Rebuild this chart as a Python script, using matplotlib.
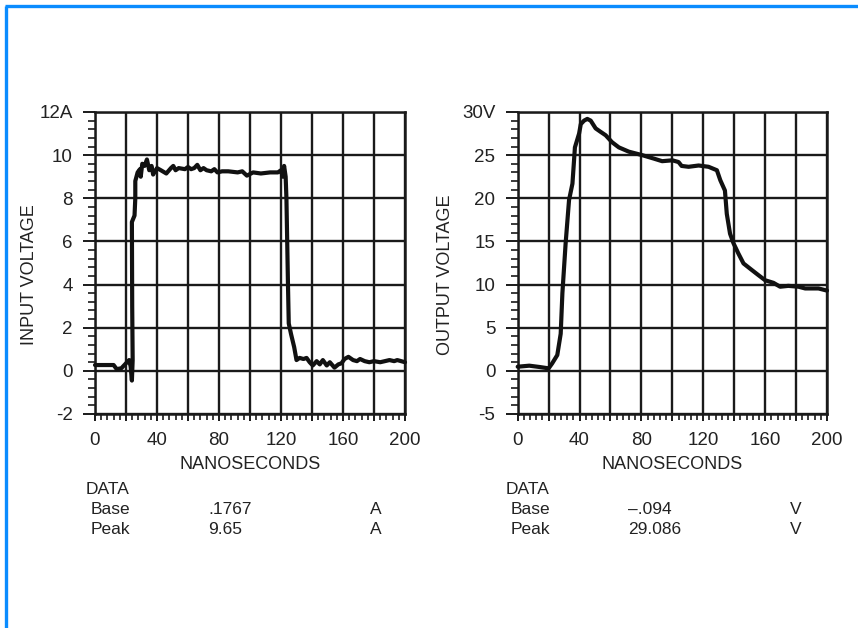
import matplotlib
matplotlib.use("Agg")
from matplotlib import pyplot as plt
from matplotlib.lines import Line2D
from matplotlib.ticker import MultipleLocator
import numpy as np

plt.rcParams["font.family"] = ["Liberation Sans", "DejaVu Sans"]

# input current trace (nanoseconds, amps)
in_t = [0, 12, 14, 17, 20, 22, 23, 23.8, 24.3, 24, 23.8, 25.5, 26, 26, 27.5, 29,
        29.5, 30.5, 32, 33.5, 35, 36.5, 37.5, 40, 42.5, 46, 49, 50.5, 52, 54, 58,
        60, 62, 64, 66, 68, 70, 72, 75, 77, 79, 82, 86, 92, 95, 98, 102, 107, 113,
        118, 120, 121, 122, 123, 123.5, 124, 124.5, 125, 126.5, 127.5, 128.5,
        129.5, 130, 132, 134.5, 136.5, 138.5, 140.5, 143, 145, 147, 149.5, 151.5,
        154.5, 157, 159, 161, 163.5, 166.5, 169, 171, 174, 177, 180, 184, 187,
        190, 193, 195, 200]
in_v = [0.27, 0.27, 0.08, 0.12, 0.35, 0.5, 0.2, -0.45, 0.5, 3.0, 6.9, 7.2, 8.0,
        8.8, 9.2, 9.35, 9.0, 9.6, 9.5, 9.8, 9.3, 9.5, 9.1, 9.4, 9.3, 9.15, 9.4,
        9.5, 9.3, 9.4, 9.35, 9.45, 9.35, 9.4, 9.55, 9.3, 9.4, 9.3, 9.25, 9.35, 9.2,
        9.25, 9.25, 9.2, 9.25, 9.05, 9.2, 9.15, 9.2, 9.2, 9.3, 9.0, 9.5, 9.0, 8.0,
        6.0, 4.0, 2.2, 1.7, 1.4, 1.1, 0.7, 0.5, 0.6, 0.55, 0.6, 0.4, 0.25, 0.45,
        0.3, 0.5, 0.25, 0.4, 0.15, 0.3, 0.35, 0.55, 0.65, 0.5, 0.45, 0.55, 0.45,
        0.4, 0.45, 0.4, 0.45, 0.5, 0.45, 0.5, 0.4]

# output voltage trace (nanoseconds, volts)
out_t = [0, 7.5, 14, 20, 22.3, 25.6, 27.8, 28.9, 31, 33.2, 35.4, 37, 39.7, 40.8,
         42.9, 45, 47.2, 50.4, 53.6, 56.9, 61, 65.4, 71.9, 80.5, 88, 93.4, 100,
         104, 106, 110.5, 117, 123.4, 128.8, 131, 134, 135.2, 137.3, 139.5, 142.7,
         146, 151.3, 155.6, 160, 165.4, 169.7, 175, 181.6, 185.9, 194.5, 200]
out_v = [0.48, 0.6, 0.45, 0.29, 0.87, 1.83, 4.3, 9.0, 14.8, 19.8, 21.7, 25.9,
         27.5, 28.6, 29.0, 29.2, 29.0, 28.1, 27.7, 27.3, 26.5, 25.9, 25.4, 25.0,
         24.6, 24.3, 24.4, 24.2, 23.75, 23.65, 23.8, 23.65, 23.25, 22.1, 20.9,
         18.2, 15.9, 14.8, 13.6, 12.45, 11.7, 11.1, 10.5, 10.2, 9.75, 9.85, 9.75,
         9.55, 9.55, 9.3]

x_ticks = list(range(0, 201, 20))
x_labels = ["0", "", "40", "", "80", "", "120", "", "160", "", "200"]
in_ticks = list(range(-2, 13, 2))
in_labels = ["-2", "0", "2", "4", "6", "8", "10", "12A"]
out_ticks = list(range(-5, 31, 5))
out_labels = ["-5", "0", "5", "10", "15", "20", "25", "30V"]

left_data = [("Base", ".1767", "A"), ("Peak", "9.65", "A")]
right_data = [("Base", "\u2013.094", "V"), ("Peak", "29.086", "V")]

W, H = 858, 628
fig = plt.figure(figsize=(W / 100, H / 100), dpi=100)

grid_c = "#1a1a1a"
text_c = "#222222"


def panel(rect, t, v, yticks, ylabels, ymin, ymax, yminor, ylabel, label_x):
    ax = fig.add_axes([rect[0] / W, 1 - rect[3] / H, (rect[2] - rect[0]) / W,
                       (rect[3] - rect[1]) / H])
    ax.set_xlim(0, 200)
    ax.set_ylim(ymin, ymax)
    ax.set_xticks(x_ticks)
    ax.set_xticklabels(x_labels)
    ax.set_yticks(yticks)
    ax.set_yticklabels(ylabels)
    ax.xaxis.set_minor_locator(MultipleLocator(4))
    ax.yaxis.set_minor_locator(MultipleLocator(yminor))
    ax.grid(True, which="major", color=grid_c, linewidth=1.7)
    ax.set_axisbelow(True)
    for s in ax.spines.values():
        s.set_color(grid_c)
        s.set_linewidth(1.8)
    ax.tick_params(axis="y", which="major", direction="out", length=9, width=1.4,
                   color=grid_c, labelsize=13.5, labelcolor=text_c, pad=7)
    ax.tick_params(axis="y", which="minor", direction="out", length=5, width=1.2,
                   color=grid_c)
    ax.tick_params(axis="x", which="major", direction="out", length=5, width=1.4,
                   color=grid_c, labelsize=13.5, labelcolor=text_c, pad=8)
    ax.tick_params(axis="x", which="minor", direction="out", length=4, width=1.2,
                   color=grid_c)
    ax.plot(t, v, color="#111111", linewidth=3.0, solid_joinstyle="round",
            solid_capstyle="round", clip_on=False, zorder=3)
    ax.set_xlabel("NANOSECONDS", fontsize=13, color=text_c, labelpad=5)
    ax.set_ylabel(ylabel, fontsize=13, color=text_c)
    ax.yaxis.set_label_coords(label_x, 0.46)
    return ax


panel((95, 112, 405, 414), in_t, in_v, in_ticks, in_labels, -2, 12, 0.4,
      "INPUT VOLTAGE", -0.184)
panel((517.7, 112, 827, 414), out_t, out_v, out_ticks, out_labels, -5, 30, 1,
      "OUTPUT VOLTAGE", -0.206)

# data readouts under each panel
for x0, rows in ((86, left_data), (506, right_data)):
    fig.text(x0 / W, 1 - 490 / H, "DATA", fontsize=12.5, color=text_c, va="center")
    for i, (name, val, unit) in enumerate(rows):
        y = 1 - (510 + 20 * i) / H
        fig.text((x0 + 5) / W, y, name, fontsize=12.5, color=text_c, va="center")
        fig.text((x0 + 122) / W, y, val, fontsize=12.5, color=text_c, va="center")
        fig.text((x0 + 284) / W, y, unit, fontsize=12.5, color=text_c, va="center")

# blue frame on the left and top edges
blue = "#0a8cff"
fig.add_artist(Line2D([6 / W, 6 / W], [0, 1 - 6 / H], color=blue, linewidth=2.4,
                      solid_capstyle="butt"))
fig.add_artist(Line2D([5 / W, 1], [1 - 6 / H, 1 - 6 / H], color=blue,
                      linewidth=2.4, solid_capstyle="butt"))

fig.savefig("out.png", dpi=100)
